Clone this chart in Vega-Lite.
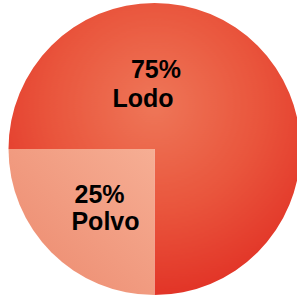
{
  "$schema": "https://vega.github.io/schema/vega-lite/v6.json",
  "width": 285,
  "height": 292,
  "padding": {"left": 12, "top": 3, "right": 0, "bottom": 7},
  "autosize": {"type": "none"},
  "background": "white",
  "config": {"view": {"stroke": null}},
  "layer": [
    {
      "data": {"values": [
        {"categoria": "Lodo", "porcentaje": 75},
        {"categoria": "Polvo", "porcentaje": 25}
      ]},
      "mark": {"type": "arc", "outerRadius": 146},
      "encoding": {
        "theta": {"field": "porcentaje", "type": "quantitative", "stack": true, "scale": {"range": [-1.5708, 4.7124]}},
        "fill": {
          "condition": {
            "test": "datum.categoria === 'Polvo'",
            "value": {"gradient": "linear", "x1": 1, "y1": 0, "x2": 0, "y2": 1,
              "stops": [{"offset": 0, "color": "#f6ae94"}, {"offset": 1, "color": "#ec886c"}]}
          },
          "value": {"gradient": "radial", "x1": 0.5, "y1": 0.35, "r1": 0, "x2": 0.5, "y2": 0.35, "r2": 0.72,
            "stops": [{"offset": 0, "color": "#ee7658"}, {"offset": 0.5, "color": "#e9553c"}, {"offset": 1, "color": "#e02c22"}]}
        }
      }
    },
    {
      "data": {"values": [
        {"texto": "75%", "u": 0.01, "v": 0.486},
        {"texto": "Lodo", "u": -0.08, "v": 0.288},
        {"texto": "25%", "u": -0.386, "v": -0.37},
        {"texto": "Polvo", "u": -0.344, "v": -0.555}
      ]},
      "mark": {"type": "text", "fontSize": 25, "fontWeight": "bold", "font": "Liberation Sans", "baseline": "alphabetic", "align": "center", "color": "black"},
      "encoding": {
        "x": {"field": "u", "type": "quantitative", "scale": {"domain": [-1, 1]}, "axis": null},
        "y": {"field": "v", "type": "quantitative", "scale": {"domain": [-1, 1]}, "axis": null},
        "text": {"field": "texto"}
      }
    }
  ]
}
